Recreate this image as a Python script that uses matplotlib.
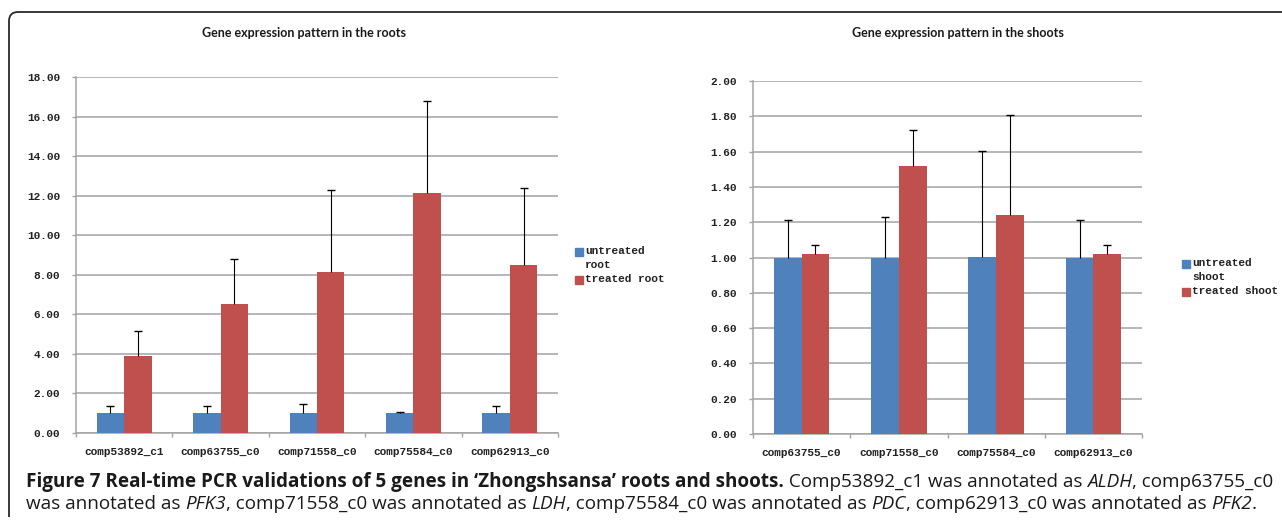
import matplotlib
matplotlib.use("Agg")
import matplotlib.pyplot as plt
import numpy as np
from matplotlib.patches import Rectangle, PathPatch
from matplotlib.path import Path

# ---------------- data ----------------
root_genes = ["comp53892_c1", "comp63755_c0", "comp71558_c0", "comp75584_c0", "comp62913_c0"]
root_untreated = [1.00, 1.00, 1.00, 1.00, 1.00]
root_untreated_err = [0.35, 0.38, 0.48, 0.04, 0.38]
root_treated = [3.90, 6.50, 8.15, 12.12, 8.47]
root_treated_err = [1.27, 2.30, 4.15, 4.68, 3.91]
root_ticks = [0, 2, 4, 6, 8, 10, 12, 14, 16, 18]
root_labels = ["untreated\nroot", "treated root"]

shoot_genes = ["comp63755_c0", "comp71558_c0", "comp75584_c0", "comp62913_c0"]
shoot_untreated = [1.00, 1.00, 1.005, 1.00]
shoot_untreated_err = [0.21, 0.23, 0.60, 0.21]
shoot_treated = [1.02, 1.52, 1.24, 1.02]
shoot_treated_err = [0.05, 0.20, 0.57, 0.05]
shoot_ticks = [0.0, 0.2, 0.4, 0.6, 0.8, 1.0, 1.2, 1.4, 1.6, 1.8, 2.0]
shoot_labels = ["untreated\nshoot", "treated shoot"]

titles = ["Gene expression pattern in the roots", "Gene expression pattern in the shoots"]

caption_line1 = [
    ("Figure 7 Real-time PCR validations of 5 genes in \u2018Zhongshsansa\u2019 roots and shoots.", "normal", "bold"),
    (" Comp53892_c1 was annotated as ", "normal", "normal"),
    ("ALDH", "italic", "normal"),
    (", comp63755_c0", "normal", "normal"),
]
caption_line2 = [
    ("was annotated as ", "normal", "normal"),
    ("PFK3", "italic", "normal"),
    (", comp71558_c0 was annotated as ", "normal", "normal"),
    ("LDH", "italic", "normal"),
    (", comp75584_c0 was annotated as ", "normal", "normal"),
    ("PDC", "italic", "normal"),
    (", comp62913_c0 was annotated as ", "normal", "normal"),
    ("PFK2", "italic", "normal"),
    (".", "normal", "normal"),
]

# ---------------- style ----------------
W, H = 1282, 523
BLUE = "#4F81BD"
RED = "#C0504D"
GRID = "#A3A3A3"
MONO = ["Liberation Mono", "DejaVu Sans Mono"]
MONO_W = "bold"
TICK_PT = 8.0
plt.rcParams["font.family"] = ["DejaVu Sans"]

fig = plt.figure(figsize=(W / 100, H / 100), dpi=100)
fig.patch.set_facecolor("white")


def fx(px):
    return px / W


def fy(py):
    return 1 - py / H


def bar_chart(rect, genes, unt, unt_err, trt, trt_err, ticks, fmt):
    ax = fig.add_axes(rect)
    n = len(genes)
    x = np.arange(n)
    bw = 0.285
    ax.bar(x - bw / 2, unt, width=bw, color=BLUE, zorder=3)
    ax.bar(x + bw / 2, trt, width=bw, color=RED, zorder=3)
    for xs, v, e in ((x - bw / 2, unt, unt_err), (x + bw / 2, trt, trt_err)):
        _, caps, _ = ax.errorbar(xs, v, yerr=[np.zeros(n), e], fmt="none",
                                 ecolor="black", elinewidth=0.8, capsize=2.6,
                                 capthick=1.0, zorder=4)
        caps[0].set_visible(False)
    ax.set_xlim(-0.5, n - 0.5)
    ax.set_ylim(ticks[0], ticks[-1])
    ax.set_yticks(ticks)
    ax.set_yticklabels([fmt % t for t in ticks], family=MONO, fontsize=TICK_PT,
                       fontweight=MONO_W, color="#222222")
    ax.set_xticks(x)
    ax.set_xticklabels(genes, family=MONO, fontsize=TICK_PT, fontweight=MONO_W,
                       color="#222222")
    ax.set_xticks(np.arange(n + 1) - 0.5, minor=True)
    ax.tick_params(axis="x", which="major", length=0, pad=10)
    ax.tick_params(axis="x", which="minor", length=3, color=GRID, width=1.0, direction="out")
    ax.tick_params(axis="y", length=3, color=GRID, width=1.0, pad=8.5, direction="out")
    ax.grid(axis="y", color=GRID, linewidth=1.1, zorder=0)
    ax.set_axisbelow(True)
    for s in ("top", "right"):
        ax.spines[s].set_visible(False)
    for s in ("left", "bottom"):
        ax.spines[s].set_color(GRID)
        ax.spines[s].set_linewidth(1.1)
    return ax


axL = bar_chart([fx(76), fy(433), fx(558 - 76), (433 - 77) / H],
                root_genes, root_untreated, root_untreated_err,
                root_treated, root_treated_err, root_ticks, "%.2f")
axR = bar_chart([fx(753), fy(434), fx(1142 - 753), (434 - 81) / H],
                shoot_genes, shoot_untreated, shoot_untreated_err,
                shoot_treated, shoot_treated_err, shoot_ticks, "%.2f")

# titles
fig.text(fx(202), fy(33), titles[0], ha="left", va="center",
         family=["Lato", "DejaVu Sans"], fontweight="bold", fontsize=9.0, color="#1a1a1a")
fig.text(fx(852), fy(33), titles[1], ha="left", va="center",
         family=["Lato", "DejaVu Sans"], fontweight="bold", fontsize=9.0, color="#1a1a1a")


# legends
def legend(x_sq, y_first, labels):
    y = y_first
    for lab, col in zip(labels, [BLUE, RED]):
        fig.patches.append(Rectangle((fx(x_sq), fy(y + 4)), 8 / W, 8 / H,
                                     transform=fig.transFigure, color=col, figure=fig))
        fig.text(fx(x_sq + 10), fy(y - 6.5), lab, ha="left", va="top", family=MONO,
                 fontweight=MONO_W, fontsize=TICK_PT, linespacing=1.55, color="#222222")
        y += 14 * (lab.count("\n") + 1)


legend(575, 252, root_labels)
legend(1182, 264, shoot_labels)

# frame
r = 9
verts = [(fx(9), fy(517)), (fx(9), fy(12 + r)), (fx(9), fy(12)), (fx(9 + r), fy(12)), (fx(1290), fy(12))]
codes = [Path.MOVETO, Path.LINETO, Path.CURVE3, Path.CURVE3, Path.LINETO]
fig.patches.append(PathPatch(Path(verts, codes), transform=fig.transFigure, fill=False,
                             edgecolor="#2a2a2a", linewidth=1.3, figure=fig))

# caption
fig.canvas.draw()
renderer = fig.canvas.get_renderer()
CAP_FAMILY = ["Open Sans", "DejaVu Sans"]
CAP_PT = 13.55


def draw_runs(runs, x0, yb):
    x = x0
    for text, style, weight in runs:
        t = fig.text(fx(x), fy(yb), text, ha="left", va="baseline", family=CAP_FAMILY,
                     fontsize=CAP_PT, fontstyle=style, fontweight=weight, color="#1a1a1a")
        bb = t.get_window_extent(renderer)
        x += bb.width


draw_runs(caption_line1, 26, 487)
draw_runs(caption_line2, 26, 509)

fig.savefig("out.png", dpi=100, facecolor="white")
